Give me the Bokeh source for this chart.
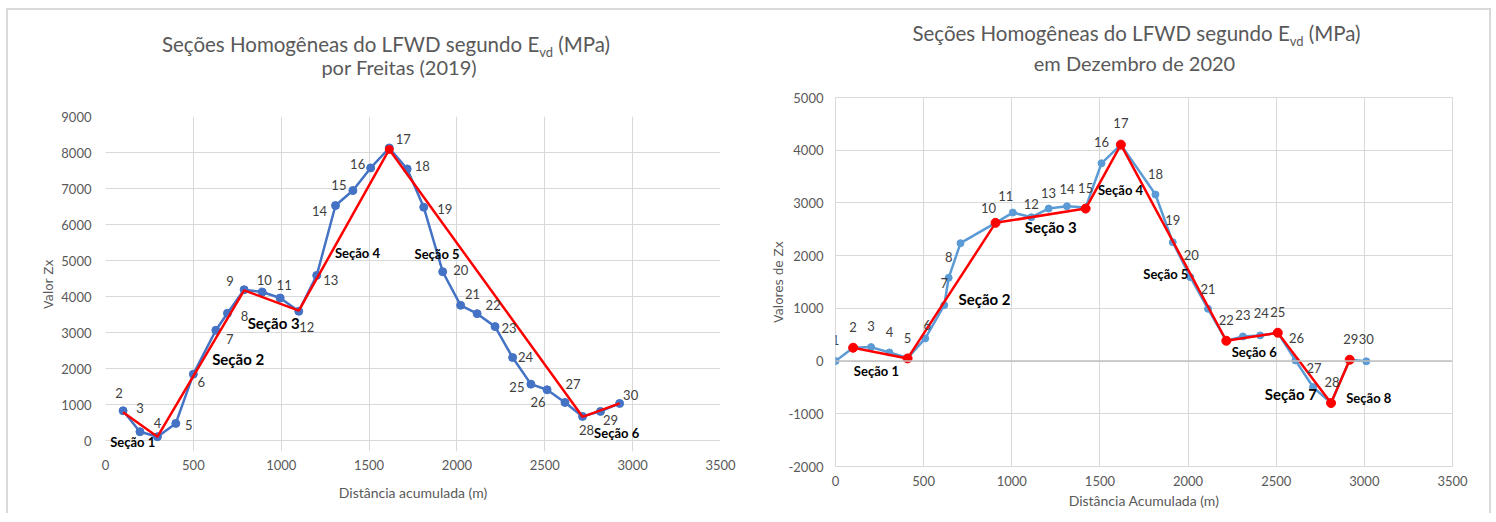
from bokeh.plotting import figure
from bokeh.models import (ColumnDataSource, LabelSet, Label, FixedTicker, Range1d, Span,
                          PrintfTickFormatter, Div)
from bokeh.layouts import row, column
from bokeh.core.properties import value
from bokeh.embed import file_html
from bokeh.resources import INLINE

# ---------------- data: left chart (Freitas 2019) ----------------
left_ids = [str(i) for i in range(2, 31)]
left_dist = [100, 196, 296, 400, 500, 628, 694, 789, 892, 994, 1100, 1202, 1309, 1408,
             1509, 1615, 1717, 1811, 1919, 2021, 2115, 2217, 2317, 2421, 2513, 2615,
             2715, 2817, 2926]
left_zx = [831, 249, 111, 480, 1847, 3066, 3537, 4192, 4127, 3961, 3592, 4589, 6528, 6944,
           7572, 8126, 7544, 6482, 4691, 3758, 3527, 3167, 2308, 1570, 1413, 1062,
           674, 813, 1034]
left_sec_x = [100, 296, 789, 1100, 1615, 2715, 2926]
left_sec_y = [790, 111, 4175, 3610, 8085, 662, 1034]
left_sec_names = ["Seção 1", "Seção 2", "Seção 3", "Seção 4", "Seção 5", "Seção 6"]
left_sec_lx = [155, 755, 957, 1434, 1887, 2909]
left_sec_ly = [-46, 2262, 3278, 5217, 5171, 203]
left_sec_big = [False, True, True, False, False, False]

# ---------------- data: right chart (Dezembro 2020) ----------------
right_ids = [str(i) for i in range(1, 31)]
right_ids[8] = ""  # label 9 not shown
right_dist = [0, 100, 202, 306, 409, 509, 617, 642, 709, 908, 1006, 1111, 1209, 1313, 1419,
              1509, 1619, 1815, 1913, 2013, 2113, 2217, 2311, 2409, 2509, 2609, 2709,
              2811, 2917, 3011]
right_zx = [0, 253, 265, 164, 57, 430, 1061, 1579, 2236, 2622, 2817, 2729, 2893, 2937, 2912,
            3752, 4106, 3159, 2255, 1592, 992, 385, 467, 486, 537, 13, -493, -796, 25, -5]
right_sec_x = [100, 409, 908, 1419, 1619, 2217, 2509, 2811, 2917]
right_sec_y = [253, 50, 2622, 2893, 4106, 385, 537, -796, 25]
right_sec_names = ["Seção 1", "Seção 2", "Seção 3", "Seção 4", "Seção 5", "Seção 6",
                   "Seção 7", "Seção 8"]
right_sec_lx = [232, 845, 1221, 1617, 1874, 2375, 2583, 3025]
right_sec_ly = [-190, 1181, 2540, 3253, 1661, 171, -632, -695]
right_sec_big = [False, True, True, False, False, False, True, False]

x_ticks = [0, 500, 1000, 1500, 2000, 2500, 3000, 3500]
left_y_ticks = [0, 1000, 2000, 3000, 4000, 5000, 6000, 7000, 8000, 9000]
right_y_ticks = [-2000, -1000, 0, 1000, 2000, 3000, 4000, 5000]

left_title = ("Seções Homogêneas do LFWD segundo E", "vd", "(MPa)", "por Freitas (2019)")
right_title = ("Seções Homogêneas do LFWD segundo E", "vd", "(MPa)", "em Dezembro de 2020")

# label offsets (screen px, y up)
left_dx = [-4, 0, 0, 13, 8, 14, 17, -14, 2, 4, 8, 14, -16, -14, -13, 14, 15, 21, 18, 12,
           16, 14, 13, -14, -9, 8, 4, 10, 11]
left_dy = [18, 24, 14, -2, -8, -9, -3, 9, 12, 13, -16, -5, -5, 6, 4, 9, 3, -2, 2, 11, 9,
           -1, 1, -3, -12, 18, -14, -9, 8]
right_dx = [0, 0, 0, 0, 0, 2, 0, 0, 0, -7, -7, 0, 0, 0, 0, 0, 0, 0, 0, 1, 0, 0, 0, 1, 0,
            1, 1, 1, 1, 0]
right_dy = [21, 21, 21, 20, 20, 13, 22, 21, 21, 15, 17, 13, 16, 17, 20, 21, 22, 21, 22, 22,
            20, 21, 21, 22, 21, 22, 19, 21, 21, 22]

GRAY = "#595959"
GRID = "#d9d9d9"
FONT = "Lato"


def style(p, yticks, bounds):
    p.frame_align = False
    p.background_fill_color = "white"
    p.border_fill_color = "white"
    p.outline_line_color = None
    p.xaxis.ticker = FixedTicker(ticks=x_ticks)
    p.yaxis.ticker = FixedTicker(ticks=yticks)
    p.xaxis.formatter = PrintfTickFormatter(format="%d")
    p.yaxis.formatter = PrintfTickFormatter(format="%d")
    p.xgrid.ticker = FixedTicker(ticks=x_ticks)
    p.ygrid.ticker = FixedTicker(ticks=yticks)
    p.xgrid.bounds = bounds
    for g in (p.xgrid, p.ygrid):
        g.grid_line_color = GRID
        g.grid_line_width = 1
    for ax in (p.xaxis, p.yaxis):
        ax.axis_line_color = None
        ax.major_tick_line_color = None
        ax.minor_tick_line_color = None
        ax.major_tick_out = 0
        ax.major_tick_in = 0
        ax.major_label_text_font = FONT
        ax.major_label_text_font_size = "13px"
        ax.major_label_text_color = GRAY
        ax.axis_label_text_color = GRAY
        ax.axis_label_text_font_style = "normal"
    p.xaxis.axis_label_text_font = FONT
    p.xaxis.axis_label_text_font_size = "14px"
    p.yaxis.axis_label_text_font = "DejaVu Sans"
    p.yaxis.axis_label_text_font_size = "12px"


def title_div(parts, width, height, pad_top, line_h, shift1, shift2):
    main, sub, tail, line2 = parts
    html = (
        f'<div style="font-family:Lato;font-size:20px;color:{GRAY};text-align:center;'
        f'line-height:{line_h}px;padding-top:{pad_top}px;white-space:nowrap;width:{width}px">'
        f'<div style="position:relative;left:{shift1}px;font-size:20.5px">{main}'
        f'<span style="font-size:13px;position:relative;top:5px;line-height:0">{sub}</span>'
        f' {tail}</div>'
        f'<div style="position:relative;left:{shift2}px">{line2}</div></div>'
    )
    return Div(text=html, width=width, height=height, margin=(0, 0, 0, 0))


def sections(p, names, lx, ly, big):
    for n, x, y, b in zip(names, lx, ly, big):
        p.add_layout(Label(x=x, y=y, text=n, text_align="center", text_baseline="middle",
                           text_font=FONT, text_font_size="15px" if b else "13px",
                           text_font_style="bold", text_color="black"))


H = 503
HD = 80
MARGIN = {"margin-left": "6px", "margin-top": "8px",
          "border-top": "2px solid #d9d9d9",
          "border-left": "2px solid #d9d9d9",
          "border-right": "2px solid #d9d9d9"}

# ---------------- left figure ----------------
p1 = figure(width=740, height=H - HD, output_backend="svg", toolbar_location=None,
            x_range=Range1d(0, 3500), y_range=Range1d(-300, 9000),
            min_border_left=97, min_border_right=28, min_border_top=106 - HD,
            min_border_bottom=62)
style(p1, left_y_ticks, (0, 9000))
p1.xaxis.axis_label = "Distância acumulada (m)"
p1.yaxis.axis_label = "Valor Zx"
p1.xaxis.major_label_standoff = 8
p1.yaxis.major_label_standoff = 14
p1.xaxis.axis_label_standoff = 11
p1.yaxis.axis_label_standoff = 2

src1 = ColumnDataSource(dict(x=left_dist, y=left_zx, t=left_ids, dx=left_dx, dy=left_dy))
p1.line("x", "y", source=src1, line_color="#4472C4", line_width=2.5)
p1.scatter("x", "y", source=src1, size=8, fill_color="#4472C4", line_color="#4472C4")
p1.line(left_sec_x, left_sec_y, line_color="#FF0000", line_width=2.5)
p1.scatter([left_sec_x[4]], [left_sec_y[4]], size=8, fill_color="#FF0000",
           line_color="#FF0000")
p1.add_layout(LabelSet(x="x", y="y", text="t", x_offset="dx", y_offset="dy", source=src1,
                       text_align="center", text_baseline="middle", text_font=value(FONT),
                       text_font_size=value("13px"), text_color="#404040"))
sections(p1, left_sec_names, left_sec_lx, left_sec_ly, left_sec_big)
d1 = title_div(left_title, 740, HD, 23, 22.5, 8, 21)

# ---------------- right figure ----------------
p2 = figure(width=741, height=H - HD, output_backend="svg", toolbar_location=None,
            x_range=Range1d(0, 3500), y_range=Range1d(-2000, 5000),
            min_border_left=87, min_border_right=37, min_border_top=87 - HD,
            min_border_bottom=47)
style(p2, right_y_ticks, "auto")
p2.outline_line_color = GRID
p2.xaxis.major_label_standoff = 9
p2.yaxis.major_label_standoff = 12
p2.xaxis.axis_label_standoff = 3
p2.yaxis.axis_label_standoff = 0
p2.xaxis.axis_label = "Distância Acumulada (m)"
p2.yaxis.axis_label = "Valores de Zx"
p2.add_layout(Span(location=0, dimension="width", line_color="#bfbfbf", line_width=1.5))

src2 = ColumnDataSource(dict(x=right_dist, y=right_zx, t=right_ids, dx=right_dx, dy=right_dy))
p2.line("x", "y", source=src2, line_color="#5B9BD5", line_width=2.5)
p2.scatter("x", "y", source=src2, size=7, fill_color="#5B9BD5", line_color="#5B9BD5")
p2.line(right_sec_x, right_sec_y, line_color="#FF0000", line_width=2.5)
p2.scatter(right_sec_x, right_sec_y, size=9, fill_color="#FF0000", line_color="#FF0000")
p2.add_layout(LabelSet(x="x", y="y", text="t", x_offset="dx", y_offset="dy", source=src2,
                       text_align="center", text_baseline="middle", text_font=value(FONT),
                       text_font_size=value("13px"), text_color="#404040"))
sections(p2, right_sec_names, right_sec_lx, right_sec_ly, right_sec_big)
d2 = title_div(right_title, 741, HD, 8, 30, 18, 16)

layout = row(column(d1, p1), column(d2, p2), styles=MARGIN)

open("out.html", "w").write(file_html(layout, INLINE))
